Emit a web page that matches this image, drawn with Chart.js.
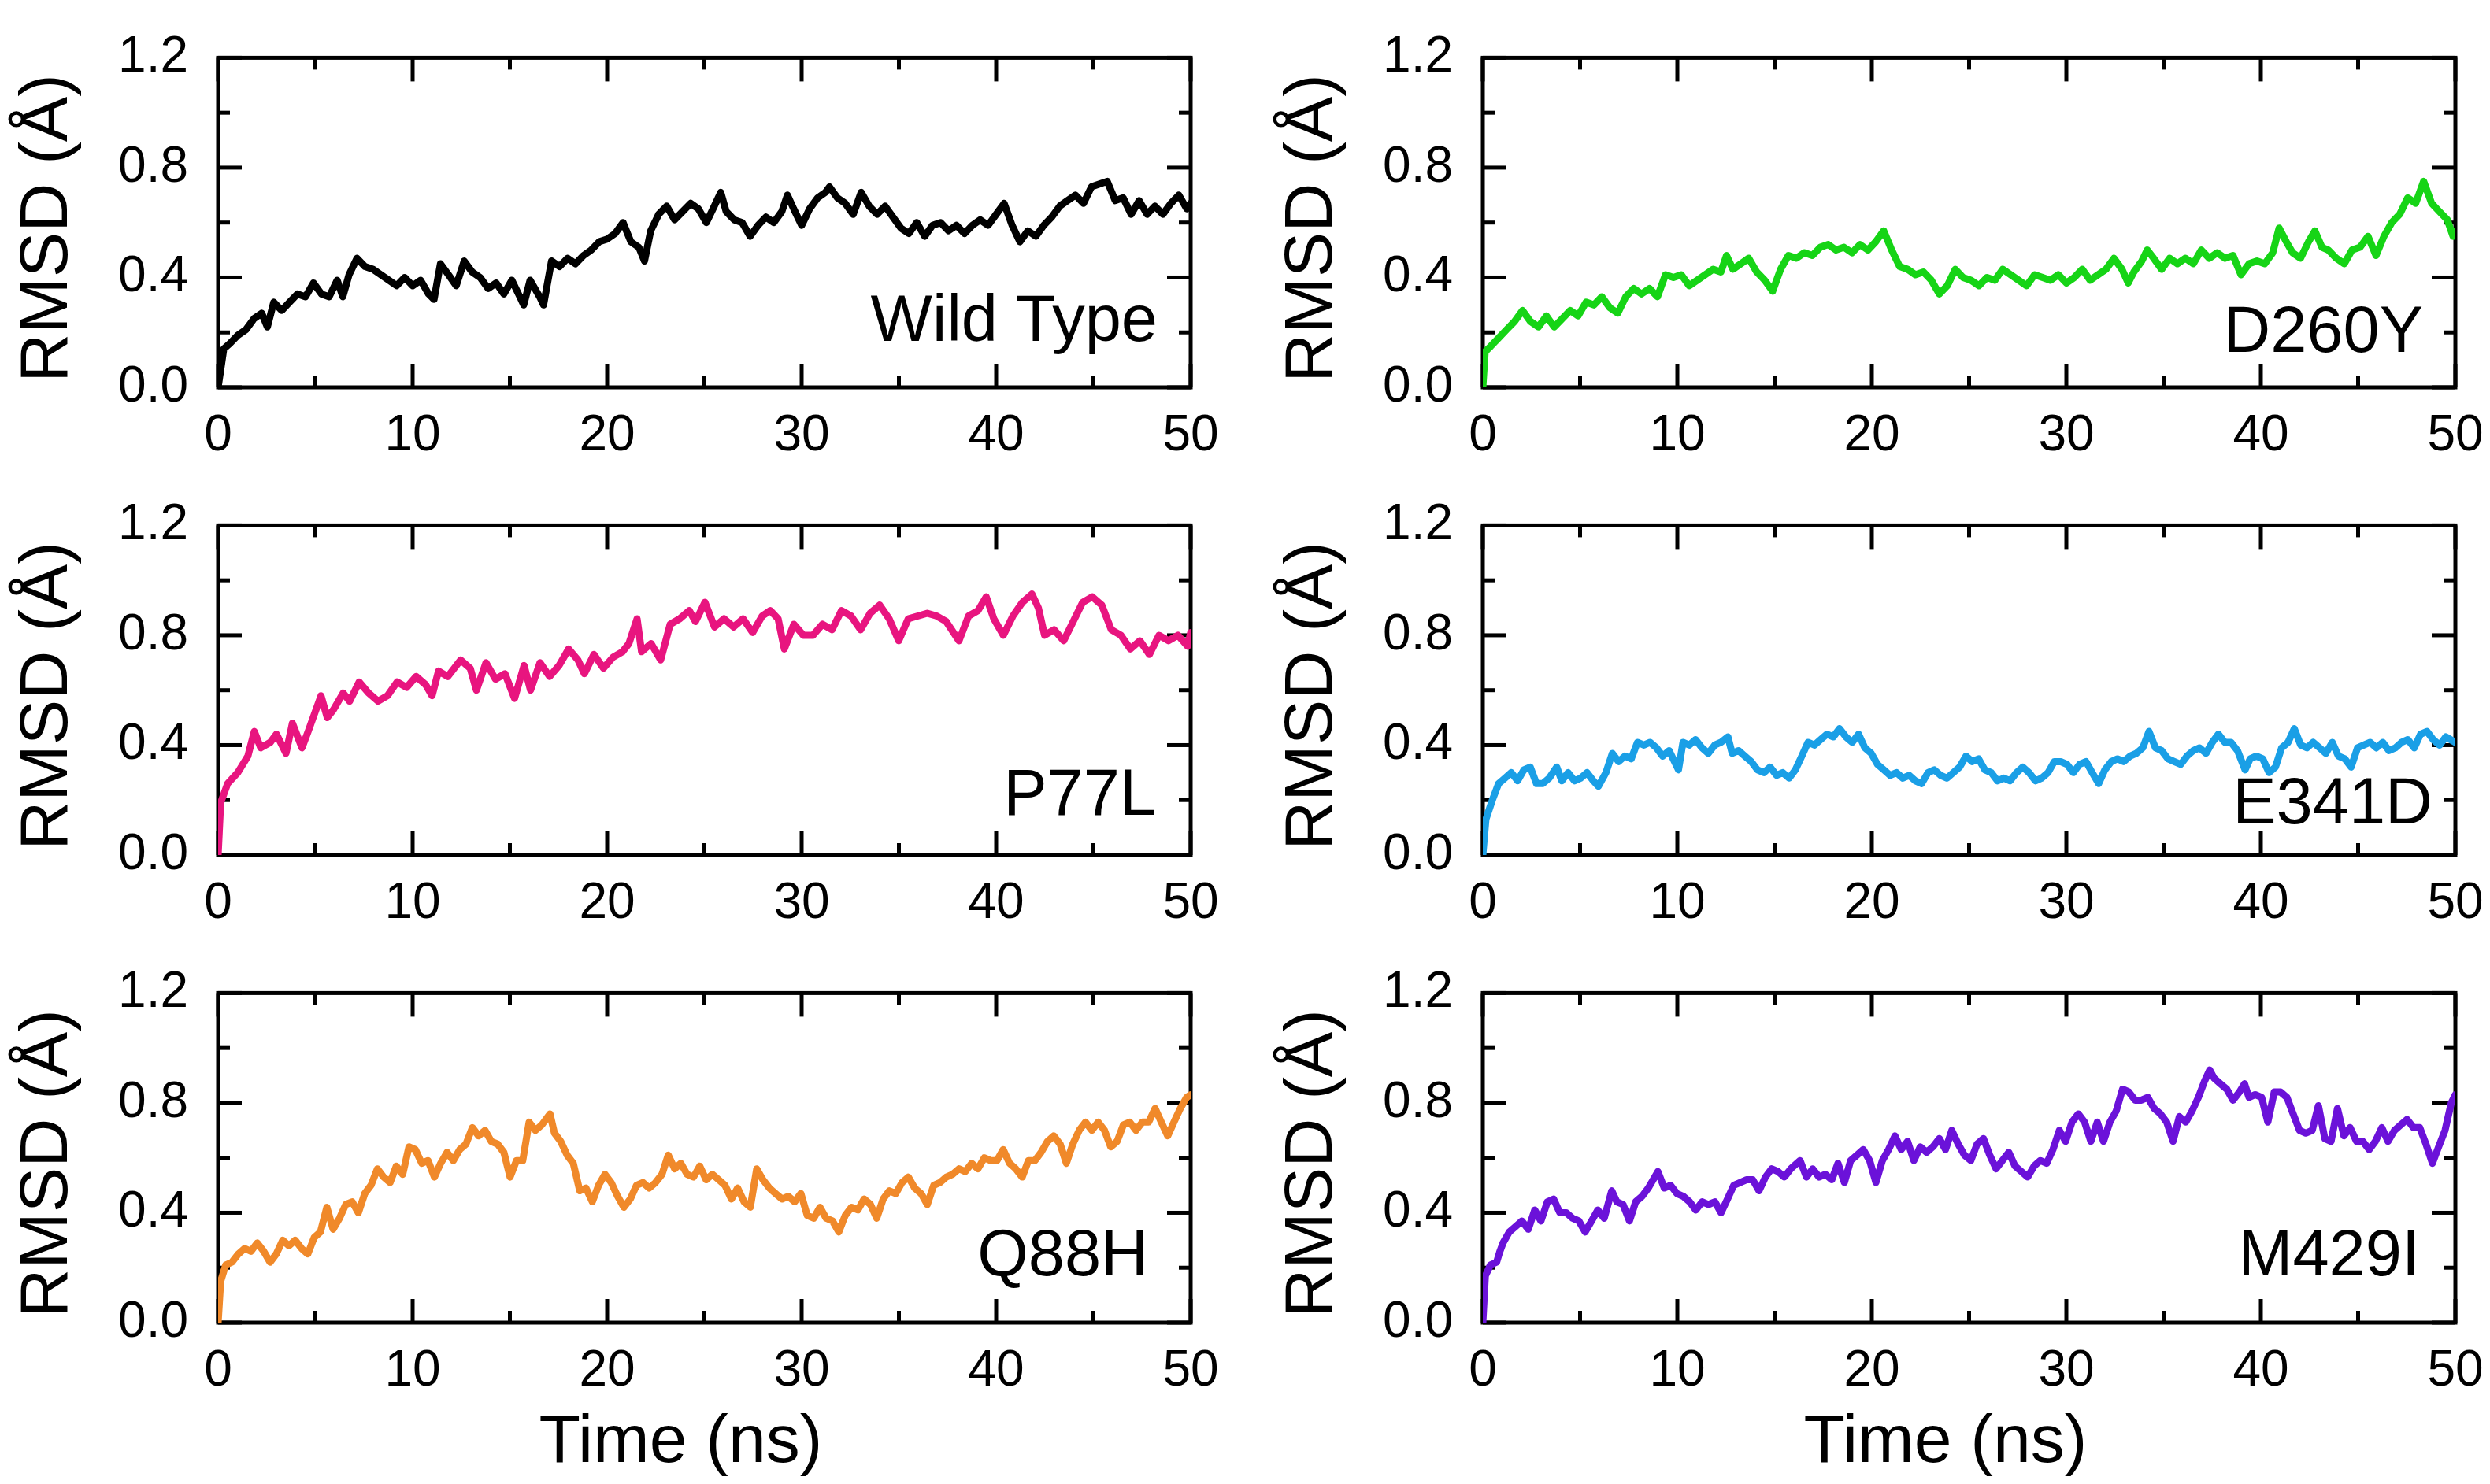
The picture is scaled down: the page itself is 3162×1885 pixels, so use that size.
<!DOCTYPE html>
<html><head><meta charset="utf-8">
<script src="https://cdn.jsdelivr.net/npm/chart.js@4.4.0/dist/chart.umd.min.js"></script>
<style>
html,body{margin:0;padding:0;background:#fff;}
body{width:3162px;height:1885px;position:relative;overflow:hidden;}
canvas{position:absolute;}
</style></head><body>
<canvas id="c0"></canvas><canvas id="c1"></canvas><canvas id="c2"></canvas>
<canvas id="c3"></canvas><canvas id="c4"></canvas><canvas id="c5"></canvas>
<script>
// ---------- data ----------
const panelNames = ['Wild Type','D260Y','P77L','E341D','Q88H','M429I'];
const xTickValues = [0,10,20,30,40,50];
const xMinorValues = [5,15,25,35,45];
const yTickValues = [0,0.4,0.8,1.2];
const yMinorValues = [0.2,0.6,1.0];
const xAxisTitle = 'Time (ns)';
const yAxisTitle = 'RMSD (Å)';

const wtTime = [0,0.29,0.61,1.02,1.43,1.84,2.24,2.53,2.86,3.27,
 3.67,4.08,4.49,4.9,5.31,5.71,6.12,6.41,6.73,7.14,
 7.55,7.96,8.37,8.78,9.18,9.59,10.0,10.41,10.82,11.1,
 11.43,11.84,12.24,12.65,13.06,13.47,13.88,14.29,14.69,15.1,
 15.51,15.71,16.04,16.53,16.73,17.14,17.55,17.96,18.37,18.78,
 19.18,19.59,20.0,20.41,20.82,21.22,21.63,21.92,22.24,22.65,
 23.06,23.47,23.88,24.29,24.69,25.1,25.51,25.84,26.12,26.53,
 26.94,27.35,27.76,28.16,28.57,28.98,29.27,29.59,30.0,30.41,
 30.82,31.22,31.43,31.84,32.24,32.65,33.06,33.47,33.88,34.29,
 34.69,35.1,35.51,35.92,36.33,36.73,37.14,37.55,37.96,38.37,
 38.78,39.18,39.59,40.0,40.41,40.82,41.22,41.63,42.04,42.45,
 42.86,43.27,43.67,44.08,44.49,44.9,45.31,45.71,46.12,46.53,
 46.94,47.35,47.76,48.16,48.57,48.98,49.39,49.8,50];
const wtRmsd = [0,0.14,0.16,0.19,0.21,0.25,0.27,0.22,0.31,0.28,
 0.31,0.34,0.33,0.38,0.34,0.33,0.39,0.33,0.41,0.47,
 0.44,0.43,0.41,0.39,0.37,0.40,0.37,0.39,0.34,0.32,
 0.45,0.41,0.37,0.46,0.42,0.40,0.36,0.38,0.34,0.39,
 0.33,0.30,0.39,0.33,0.30,0.46,0.44,0.47,0.45,0.48,
 0.50,0.53,0.54,0.56,0.60,0.53,0.51,0.46,0.57,0.63,
 0.66,0.61,0.64,0.67,0.65,0.60,0.66,0.71,0.64,0.61,
 0.60,0.55,0.59,0.62,0.60,0.64,0.70,0.65,0.59,0.65,
 0.69,0.71,0.73,0.69,0.67,0.63,0.71,0.66,0.63,0.66,
 0.62,0.58,0.56,0.60,0.55,0.59,0.60,0.57,0.59,0.56,
 0.59,0.61,0.59,0.63,0.67,0.59,0.53,0.57,0.55,0.59,
 0.62,0.66,0.68,0.70,0.67,0.73,0.74,0.75,0.68,0.69,
 0.63,0.68,0.63,0.66,0.63,0.67,0.70,0.65,0.67];

const d260yTime = [0,0.12,0.41,0.82,1.22,1.63,2.04,2.45,2.86,3.27,
 3.67,4.08,4.49,4.9,5.31,5.71,6.12,6.53,6.94,7.35,
 7.76,8.16,8.57,8.98,9.39,9.8,10.2,10.61,11.02,11.43,
 11.84,12.24,12.53,12.86,13.27,13.67,14.08,14.49,14.9,15.31,
 15.71,16.12,16.53,16.94,17.35,17.76,18.16,18.57,18.98,19.39,
 19.8,20.2,20.61,21.02,21.43,21.84,22.24,22.65,23.06,23.47,
 23.88,24.29,24.69,25.1,25.51,25.92,26.33,26.73,27.14,27.55,
 27.96,28.37,28.78,29.18,29.59,30.0,30.41,30.82,31.22,31.63,
 32.04,32.45,32.86,33.18,33.47,33.88,34.16,34.49,34.9,35.31,
 35.71,36.12,36.53,36.94,37.35,37.76,38.16,38.57,38.98,39.39,
 39.8,40.2,40.61,40.94,41.31,41.63,42.04,42.45,42.78,43.14,
 43.47,43.88,44.29,44.69,45.1,45.51,45.92,46.33,46.73,47.14,
 47.55,47.96,48.37,48.78,49.18,49.59,49.88,50];
const d260yRmsd = [0,0.13,0.15,0.18,0.21,0.24,0.28,0.24,0.22,0.26,
 0.22,0.25,0.28,0.26,0.31,0.30,0.33,0.29,0.27,0.33,
 0.36,0.34,0.36,0.33,0.41,0.40,0.41,0.37,0.39,0.41,
 0.43,0.42,0.48,0.43,0.45,0.47,0.42,0.39,0.35,0.43,
 0.48,0.47,0.49,0.48,0.51,0.52,0.50,0.51,0.49,0.52,
 0.50,0.53,0.57,0.50,0.44,0.43,0.41,0.42,0.39,0.34,
 0.37,0.43,0.40,0.39,0.37,0.40,0.39,0.43,0.41,0.39,
 0.37,0.41,0.40,0.39,0.41,0.38,0.40,0.43,0.39,0.41,
 0.43,0.47,0.43,0.38,0.42,0.46,0.50,0.47,0.43,0.47,
 0.45,0.47,0.45,0.50,0.47,0.49,0.47,0.48,0.41,0.45,
 0.46,0.45,0.49,0.58,0.53,0.49,0.47,0.53,0.57,0.51,
 0.50,0.47,0.45,0.50,0.51,0.55,0.48,0.55,0.60,0.63,
 0.69,0.67,0.75,0.67,0.64,0.61,0.55,0.57];

const p77lTime = [0,0.13,0.49,1.01,1.53,1.86,2.19,2.68,3.0,3.49,
 3.82,4.31,4.63,5.29,5.61,5.94,6.43,6.76,7.25,7.73,
 8.22,8.71,9.2,9.69,10.18,10.67,11.0,11.33,11.81,12.47,
 12.96,13.28,13.77,14.26,14.75,15.24,15.73,16.06,16.55,17.04,
 17.53,18.02,18.5,18.83,19.32,19.81,20.3,20.79,21.12,21.54,
 21.77,22.26,22.75,23.24,23.73,24.22,24.54,25.03,25.52,26.01,
 26.5,26.99,27.48,27.97,28.39,28.79,29.11,29.6,30.09,30.58,
 31.07,31.56,32.05,32.54,33.03,33.52,34.01,34.5,34.99,35.48,
 35.97,36.46,36.95,37.43,38.09,38.58,39.07,39.49,39.88,40.37,
 40.86,41.35,41.84,42.17,42.49,42.98,43.47,43.96,44.45,44.94,
 45.43,45.92,46.41,46.9,47.39,47.88,48.37,48.86,49.35,49.84,
 50];
const p77lRmsd = [0,0.19,0.26,0.30,0.36,0.45,0.39,0.41,0.44,0.37,
 0.48,0.39,0.45,0.58,0.50,0.53,0.59,0.56,0.63,0.59,
 0.56,0.58,0.63,0.61,0.65,0.62,0.58,0.67,0.65,0.71,
 0.68,0.60,0.70,0.64,0.66,0.57,0.69,0.60,0.70,0.65,
 0.69,0.75,0.71,0.66,0.73,0.68,0.72,0.74,0.77,0.86,
 0.74,0.77,0.71,0.84,0.86,0.89,0.85,0.92,0.83,0.86,
 0.83,0.86,0.81,0.87,0.89,0.86,0.75,0.84,0.80,0.80,
 0.84,0.82,0.89,0.87,0.82,0.88,0.91,0.86,0.78,0.86,
 0.87,0.88,0.87,0.85,0.78,0.87,0.89,0.94,0.86,0.80,
 0.87,0.92,0.95,0.90,0.80,0.82,0.78,0.85,0.92,0.94,
 0.91,0.82,0.80,0.75,0.78,0.73,0.80,0.78,0.80,0.76,
 0.81];

const e341dTime = [0,0.16,0.49,0.81,1.14,1.46,1.79,2.11,2.44,2.76,
 3.08,3.41,3.8,4.06,4.38,4.71,5.03,5.36,5.68,5.94,
 6.33,6.66,6.98,7.31,7.63,7.95,8.28,8.6,8.93,9.25,
 9.58,10.06,10.29,10.62,10.94,11.27,11.59,11.92,12.24,12.6,
 12.82,13.15,13.47,13.8,14.12,14.45,14.77,15.1,15.42,15.75,
 16.07,16.4,16.72,17.05,17.37,17.69,18.02,18.34,18.67,18.99,
 19.32,19.64,19.97,20.29,20.62,20.94,21.27,21.59,21.92,22.24,
 22.56,22.89,23.21,23.54,23.86,24.19,24.51,24.84,25.16,25.49,
 25.81,26.14,26.46,26.79,27.11,27.44,27.76,28.08,28.41,28.73,
 29.06,29.38,29.71,30.03,30.36,30.68,31.01,31.33,31.66,31.98,
 32.31,32.63,32.95,33.28,33.6,33.93,34.25,34.58,34.9,35.23,
 35.55,35.88,36.2,36.53,36.85,37.18,37.5,37.82,38.15,38.47,
 38.8,39.19,39.45,39.77,40.1,40.42,40.75,41.07,41.4,41.72,
 42.05,42.37,42.69,43.02,43.34,43.67,43.99,44.32,44.64,44.97,
 45.29,45.62,45.94,46.27,46.59,46.92,47.24,47.56,47.89,48.21,
 48.54,48.86,49.19,49.51,50];
const e341dRmsd = [0,0.13,0.20,0.26,0.28,0.30,0.27,0.31,0.32,0.26,
 0.26,0.28,0.32,0.27,0.30,0.27,0.28,0.30,0.27,0.25,
 0.30,0.37,0.34,0.36,0.35,0.41,0.40,0.41,0.39,0.36,
 0.38,0.31,0.41,0.40,0.42,0.39,0.37,0.40,0.41,0.43,
 0.37,0.38,0.36,0.34,0.31,0.30,0.32,0.29,0.30,0.28,
 0.31,0.36,0.41,0.40,0.42,0.44,0.43,0.46,0.43,0.41,
 0.44,0.39,0.37,0.33,0.31,0.29,0.30,0.28,0.29,0.27,
 0.26,0.30,0.31,0.29,0.28,0.30,0.32,0.36,0.34,0.35,
 0.31,0.30,0.27,0.28,0.27,0.30,0.32,0.30,0.27,0.28,
 0.30,0.34,0.34,0.33,0.30,0.33,0.34,0.30,0.26,0.31,
 0.34,0.35,0.34,0.36,0.37,0.39,0.45,0.39,0.38,0.35,
 0.34,0.33,0.36,0.38,0.39,0.37,0.41,0.44,0.41,0.41,
 0.38,0.31,0.35,0.36,0.35,0.30,0.32,0.39,0.41,0.46,
 0.40,0.39,0.41,0.39,0.37,0.41,0.36,0.35,0.32,0.39,
 0.40,0.41,0.39,0.41,0.38,0.39,0.41,0.42,0.39,0.44,
 0.45,0.42,0.40,0.43,0.41];

const q88hTime = [0,0.13,0.39,0.71,1.04,1.36,1.69,2.01,2.34,2.67,
 2.99,3.32,3.64,3.96,4.29,4.61,4.94,5.26,5.59,5.91,
 6.24,6.56,6.89,7.21,7.54,7.86,8.19,8.51,8.84,9.16,
 9.49,9.81,10.14,10.47,10.79,11.12,11.44,11.77,12.09,12.42,
 12.74,13.07,13.39,13.72,14.04,14.37,14.69,15.01,15.34,15.66,
 15.99,16.31,16.64,17.06,17.29,17.61,17.94,18.26,18.59,18.91,
 19.24,19.56,19.89,20.21,20.54,20.86,21.19,21.51,21.84,22.16,
 22.49,22.82,23.14,23.47,23.79,24.11,24.44,24.76,25.09,25.41,
 25.74,26.06,26.39,26.71,27.04,27.36,27.69,28.01,28.34,28.66,
 28.99,29.31,29.64,29.96,30.29,30.62,30.94,31.26,31.59,31.91,
 32.24,32.56,32.89,33.21,33.54,33.86,34.19,34.51,34.84,35.16,
 35.49,35.81,36.14,36.46,36.79,37.11,37.44,37.76,38.09,38.41,
 38.74,39.06,39.39,39.71,40.04,40.36,40.69,41.01,41.34,41.66,
 41.99,42.31,42.64,42.96,43.29,43.61,43.94,44.27,44.59,44.92,
 45.24,45.57,45.89,46.22,46.54,46.87,47.19,47.52,47.84,48.17,
 48.49,48.82,49.14,49.47,49.79,50];
const q88hRmsd = [0,0.15,0.21,0.22,0.25,0.27,0.26,0.29,0.26,0.22,
 0.25,0.30,0.28,0.30,0.27,0.25,0.31,0.33,0.42,0.34,
 0.38,0.43,0.44,0.40,0.47,0.50,0.56,0.53,0.51,0.57,
 0.54,0.64,0.63,0.58,0.59,0.53,0.58,0.62,0.59,0.63,
 0.65,0.71,0.68,0.70,0.66,0.65,0.62,0.53,0.59,0.59,
 0.73,0.70,0.72,0.76,0.69,0.66,0.61,0.58,0.48,0.49,
 0.44,0.50,0.54,0.51,0.46,0.42,0.45,0.50,0.51,0.49,
 0.51,0.54,0.61,0.56,0.58,0.54,0.53,0.57,0.52,0.54,
 0.52,0.50,0.45,0.49,0.44,0.42,0.56,0.52,0.49,0.47,
 0.45,0.46,0.44,0.47,0.39,0.38,0.42,0.38,0.37,0.33,
 0.39,0.42,0.41,0.45,0.43,0.38,0.45,0.48,0.47,0.51,
 0.53,0.49,0.47,0.43,0.50,0.51,0.53,0.54,0.56,0.55,
 0.58,0.56,0.60,0.59,0.59,0.63,0.58,0.56,0.53,0.59,
 0.59,0.62,0.66,0.68,0.65,0.58,0.65,0.70,0.73,0.70,
 0.73,0.70,0.64,0.66,0.72,0.73,0.70,0.73,0.73,0.78,
 0.73,0.68,0.73,0.78,0.82,0.83];

const m429iTime = [0,0.13,0.39,0.71,0.88,1.04,1.36,1.69,2.01,2.34,
 2.67,2.99,3.32,3.64,3.96,4.29,4.61,4.94,5.26,5.59,
 5.91,6.24,6.63,6.89,7.21,7.54,7.86,8.19,8.51,9.0,
 9.33,9.65,9.98,10.3,10.63,10.95,11.28,11.6,11.93,12.25,
 12.58,12.9,13.23,13.55,13.88,14.2,14.53,14.85,15.18,15.5,
 15.83,16.31,16.64,16.96,17.29,17.61,17.94,18.26,18.59,18.91,
 19.24,19.56,19.89,20.21,20.54,20.86,21.19,21.51,21.84,22.16,
 22.49,22.82,23.14,23.47,23.79,24.11,24.44,24.76,25.09,25.41,
 25.74,26.06,26.39,26.71,27.04,27.36,27.69,28.01,28.34,28.66,
 28.99,29.31,29.64,29.96,30.29,30.62,30.94,31.26,31.59,31.91,
 32.24,32.56,32.89,33.21,33.54,33.86,34.19,34.51,34.84,35.16,
 35.49,35.81,36.14,36.46,36.79,37.11,37.37,37.6,37.92,38.25,
 38.57,38.9,39.16,39.39,39.71,40.04,40.36,40.69,41.01,41.34,
 41.66,41.99,42.31,42.64,42.96,43.29,43.61,43.94,44.27,44.59,
 44.92,45.24,45.57,45.89,46.22,46.54,46.87,47.19,47.52,47.84,
 48.17,48.49,48.82,49.14,49.47,49.79,50];
const m429iRmsd = [0,0.17,0.21,0.22,0.26,0.29,0.33,0.35,0.37,0.34,
 0.41,0.37,0.44,0.45,0.40,0.40,0.38,0.37,0.33,0.37,
 0.41,0.38,0.48,0.44,0.43,0.37,0.44,0.46,0.49,0.55,
 0.49,0.50,0.47,0.46,0.44,0.41,0.44,0.43,0.44,0.40,
 0.45,0.50,0.51,0.52,0.52,0.48,0.53,0.56,0.55,0.53,
 0.56,0.59,0.53,0.56,0.53,0.54,0.52,0.58,0.51,0.59,
 0.61,0.63,0.59,0.51,0.59,0.63,0.68,0.63,0.66,0.59,
 0.64,0.62,0.64,0.67,0.63,0.70,0.65,0.61,0.59,0.65,
 0.67,0.61,0.56,0.59,0.62,0.57,0.55,0.53,0.57,0.59,
 0.58,0.63,0.70,0.66,0.73,0.76,0.73,0.66,0.73,0.66,
 0.73,0.77,0.85,0.84,0.81,0.81,0.82,0.78,0.76,0.73,
 0.66,0.75,0.73,0.77,0.82,0.88,0.92,0.89,0.87,0.85,
 0.81,0.84,0.87,0.82,0.83,0.82,0.73,0.84,0.84,0.82,
 0.76,0.70,0.69,0.70,0.79,0.67,0.66,0.78,0.68,0.71,
 0.66,0.66,0.63,0.66,0.71,0.66,0.70,0.72,0.74,0.71,
 0.71,0.65,0.58,0.64,0.70,0.80,0.83];

// ---------- layout / style ----------
const FONT = "'Liberation Sans', Arial, Helvetica, sans-serif";
const colLeft = [277, 1883];
const rowTop = [37, 631, 1225];
const plotW = 1235, plotH = 455;
const yAxisW = 277, padTop = 40, padRight = 60;

const panels = [
  {name:panelNames[0], t:wtTime,    v:wtRmsd,    color:'#000000', col:0,row:0, dx:42, dy:59},
  {name:panelNames[1], t:d260yTime, v:d260yRmsd, color:'#16d416', col:1,row:0, dx:41, dy:45},
  {name:panelNames[2], t:p77lTime,  v:p77lRmsd,  color:'#e8157f', col:0,row:1, dx:44, dy:51},
  {name:panelNames[3], t:e341dTime, v:e341dRmsd, color:'#1a9fe6', col:1,row:1, dx:29, dy:40},
  {name:panelNames[4], t:q88hTime,  v:q88hRmsd,  color:'#f0892a', col:0,row:2, dx:54, dy:60},
  {name:panelNames[5], t:m429iTime, v:m429iRmsd, color:'#6b12d9', col:1,row:2, dx:45, dy:60}
];

function framePlugin(p) {
  return {
    id: 'frame',
    beforeDatasetsDraw(chart) {
      const ctx = chart.ctx, a = chart.chartArea, xs = chart.scales.x, ys = chart.scales.y;
      ctx.save();
      ctx.strokeStyle = '#000';
      ctx.lineWidth = 5;
      ctx.lineCap = 'butt';
      const seg = (x1,y1,x2,y2) => { ctx.beginPath(); ctx.moveTo(x1,y1); ctx.lineTo(x2,y2); ctx.stroke(); };
      xTickValues.forEach(v => { const px = xs.getPixelForValue(v); seg(px,a.bottom,px,a.bottom-30); seg(px,a.top,px,a.top+30); });
      xMinorValues.forEach(v => { const px = xs.getPixelForValue(v); seg(px,a.bottom,px,a.bottom-15); seg(px,a.top,px,a.top+15); });
      yTickValues.forEach(v => { const py = ys.getPixelForValue(v); seg(a.left,py,a.left+30,py); seg(a.right,py,a.right-30,py); });
      yMinorValues.forEach(v => { const py = ys.getPixelForValue(v); seg(a.left,py,a.left+15,py); seg(a.right,py,a.right-15,py); });
      ctx.strokeRect(a.left, a.top, a.right - a.left, a.bottom - a.top);
      ctx.restore();
    },
    afterDraw(chart) {
      const ctx = chart.ctx, a = chart.chartArea;
      ctx.save();
      ctx.fillStyle = '#000';
      // panel label
      ctx.font = '83px ' + FONT;
      ctx.textAlign = 'right';
      ctx.textBaseline = 'alphabetic';
      ctx.fillText(p.name, a.right - p.dx, a.bottom - p.dy);
      // y axis title
      ctx.save();
      ctx.font = '86px ' + FONT;
      ctx.translate(a.left - 192, a.bottom - 202);
      ctx.rotate(-Math.PI / 2);
      ctx.textAlign = 'center';
      ctx.fillText(yAxisTitle, 0, 0);
      ctx.restore();
      // x axis title (bottom row only)
      if (p.row === 2) {
        ctx.font = '86px ' + FONT;
        ctx.textAlign = 'center';
        ctx.fillText(xAxisTitle, (a.left + a.right) / 2 - 30, a.bottom + 177);
      }
      ctx.restore();
    }
  };
}

panels.forEach((p, i) => {
  const cv = document.getElementById('c' + i);
  const xH = p.row === 2 ? 200 : 110;
  const w = yAxisW + plotW + padRight, h = padTop + plotH + xH;
  cv.width = w; cv.height = h;
  cv.style.width = w + 'px'; cv.style.height = h + 'px';
  cv.style.left = (colLeft[p.col] - yAxisW) + 'px';
  cv.style.top = (rowTop[p.row] - padTop) + 'px';
  new Chart(cv, {
    type: 'line',
    data: { datasets: [{
      data: p.t.map((t, k) => ({x: t, y: p.v[k]})),
      borderColor: p.color, borderWidth: 9, pointRadius: 0, tension: 0, fill: false,
      borderJoinStyle: 'round', borderCapStyle: 'round'
    }]},
    options: {
      responsive: false, animation: false, devicePixelRatio: 1,
      layout: { padding: { top: padTop, left: 0, right: padRight, bottom: 0 } },
      plugins: { legend: { display: false }, tooltip: { enabled: false } },
      scales: {
        x: {
          type: 'linear', min: 0, max: 50,
          afterBuildTicks: s => { s.ticks = xTickValues.map(v => ({value: v})); },
          ticks: { font: { family: FONT, size: 64 }, color: '#000', padding: 24, maxRotation: 0, autoSkip: false },
          grid: { display: false, drawTicks: false }, border: { display: false },
          afterFit: s => { s.height = xH; }
        },
        y: {
          type: 'linear', min: 0, max: 1.2,
          afterBuildTicks: s => { s.ticks = yTickValues.map(v => ({value: v})); },
          ticks: { font: { family: FONT, size: 64 }, color: '#000', padding: 38, callback: v => Number(v).toFixed(1) },
          grid: { display: false, drawTicks: false }, border: { display: false },
          afterFit: s => { s.width = yAxisW; }
        }
      }
    },
    plugins: [framePlugin(p)]
  });
});
</script>
</body></html>
